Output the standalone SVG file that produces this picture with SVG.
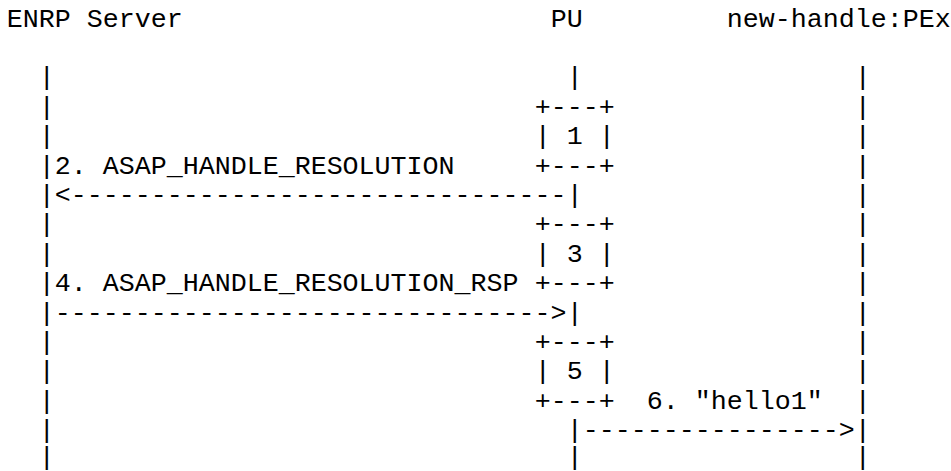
<svg xmlns="http://www.w3.org/2000/svg" width="951" height="471" viewBox="0 0 951 471">
<style>
text { font-family: "Liberation Mono", "Courier New", monospace; font-size: 26.667px; fill: #000; white-space: pre; }
</style>
<rect width="951" height="471" fill="#fff"/>
<g id="enrp-server">
<text x="6.7" y="26.6" xml:space="preserve">ENRP Server</text>
<text x="38.7" y="85.4">|</text>
<text x="38.7" y="114.8">|</text>
<text x="38.7" y="144.2">|</text>
<text x="38.7" y="173.6">|</text>
<text x="38.7" y="203.0">|</text>
<text x="38.7" y="232.4">|</text>
<text x="38.7" y="261.8">|</text>
<text x="38.7" y="291.2">|</text>
<text x="38.7" y="320.6">|</text>
<text x="38.7" y="350.0">|</text>
<text x="38.7" y="379.4">|</text>
<text x="38.7" y="408.8">|</text>
<text x="38.7" y="438.2">|</text>
<text x="38.7" y="464.5">|</text>
</g>
<g id="pu">
<text x="550.7" y="26.6">PU</text>
<text x="566.7" y="85.4">|</text>
<text x="566.7" y="203.0">|</text>
<text x="566.7" y="320.6">|</text>
<text x="566.7" y="438.2">|</text>
<text x="566.7" y="464.5">|</text>
</g>
<g id="pex">
<text x="726.7" y="26.6">new-handle:PEx</text>
<text x="854.7" y="85.4">|</text>
<text x="854.7" y="114.8">|</text>
<text x="854.7" y="144.2">|</text>
<text x="854.7" y="173.6">|</text>
<text x="854.7" y="203.0">|</text>
<text x="854.7" y="232.4">|</text>
<text x="854.7" y="261.8">|</text>
<text x="854.7" y="291.2">|</text>
<text x="854.7" y="320.6">|</text>
<text x="854.7" y="350.0">|</text>
<text x="854.7" y="379.4">|</text>
<text x="854.7" y="408.8">|</text>
<text x="854.7" y="438.2">|</text>
<text x="854.7" y="464.5">|</text>
</g>
<g id="step1">
<text x="534.7" y="114.8">+---+</text>
<text x="534.7" y="144.2" xml:space="preserve">| 1 |</text>
<text x="534.7" y="173.6">+---+</text>
</g>
<g id="step3">
<text x="534.7" y="232.4">+---+</text>
<text x="534.7" y="261.8" xml:space="preserve">| 3 |</text>
<text x="534.7" y="291.2">+---+</text>
</g>
<g id="step5">
<text x="534.7" y="350.0">+---+</text>
<text x="534.7" y="379.4" xml:space="preserve">| 5 |</text>
<text x="534.7" y="408.8">+---+</text>
</g>
<g id="connectors">
<text x="54.7" y="173.6" xml:space="preserve">2. ASAP_HANDLE_RESOLUTION</text>
<text x="54.7" y="203.0">&lt;-------------------------------</text>
<text x="54.7" y="291.2" xml:space="preserve">4. ASAP_HANDLE_RESOLUTION_RSP</text>
<text x="54.7" y="320.6">-------------------------------&gt;</text>
<text x="646.7" y="408.8" xml:space="preserve">6. "hello1"</text>
<text x="582.7" y="438.2">----------------&gt;</text>
</g>
</svg>
